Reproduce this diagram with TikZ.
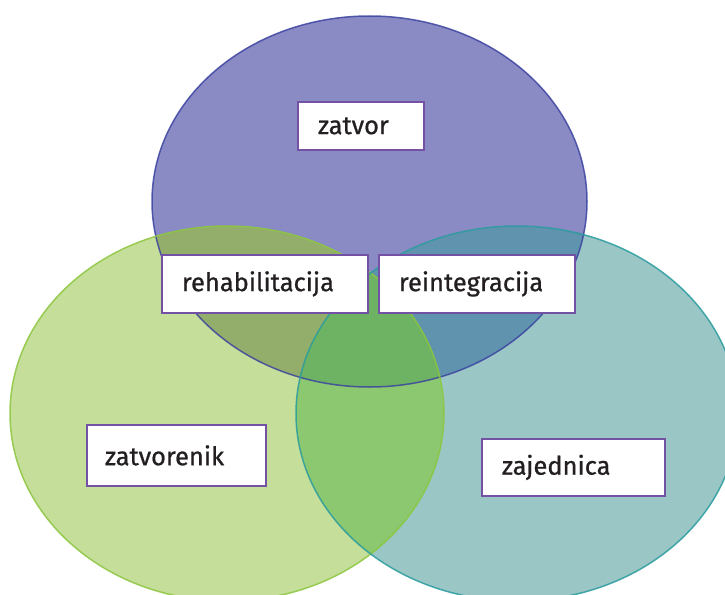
\documentclass[tikz,border=0pt]{standalone}
\usepackage{fontspec}
\setmainfont{Fira Sans}[FakeBold=0.8]
\definecolor{cP}{HTML}{8A8AC5}
\definecolor{cG}{HTML}{C5DE99}
\definecolor{cT}{HTML}{9AC6C6}
\definecolor{cPG}{HTML}{93AD6A}
\definecolor{cPT}{HTML}{5F93AE}
\definecolor{cGT}{HTML}{8BC86F}
\definecolor{cPGT}{HTML}{6EB263}
\definecolor{bP}{HTML}{3C44A0}
\definecolor{bG}{HTML}{8CC63F}
\definecolor{bT}{HTML}{2A9C9E}
\definecolor{boxb}{HTML}{7352A6}
\definecolor{txt}{HTML}{231F20}
\tikzset{
  labelbox/.style={draw=boxb, line width=1.8pt, fill=white, rectangle, inner xsep=20pt, inner ysep=0pt,
    align=left, font=\fontsize{25.5}{27}\selectfont, text=txt, anchor=north west},
}
\newcommand{\ellP}{(369.5,201.5) ellipse [x radius=217.5pt, y radius=185.5pt]}
\newcommand{\ellG}{(227,413.5) ellipse [x radius=217pt, y radius=187.5pt]}
\newcommand{\ellT}{(517,413.5) ellipse [x radius=221pt, y radius=187.5pt]}
\begin{document}
\begin{tikzpicture}[x=1pt,y=-1pt]
\useasboundingbox (0,0) rectangle (725,594);
\begin{scope}
\clip (0,0) rectangle (725,594);
\fill[cP] \ellP;
\fill[cG] \ellG;
\fill[cT] \ellT;
\begin{scope}\clip \ellP; \fill[cPG] \ellG; \fill[cPT] \ellT; \end{scope}
\begin{scope}\clip \ellG; \fill[cGT] \ellT; \end{scope}
\begin{scope}\clip \ellP; \clip \ellG; \fill[cPGT] \ellT; \end{scope}
\draw[bP, line width=1.5pt, opacity=0.85] \ellP;
\draw[bG, line width=1.5pt, opacity=0.85] \ellG;
\draw[bT, line width=1.5pt, opacity=0.85] \ellT;
\end{scope}
\node[labelbox, text width=86pt, minimum height=48pt] (zatvor) at (297,101) {zatvor};
\node[labelbox, text width=166pt, minimum height=58pt] (rehab) at (161,254) {rehabilitacija};
\node[labelbox, text width=156pt, minimum height=58pt] (reint) at (378,254) {reintegracija};
\node[labelbox, text width=143pt, minimum height=61pt, inner xsep=18pt] (zatvorenik) at (86,424) {zatvorenik};
\node[labelbox, text width=143pt, minimum height=57pt] (zajednica) at (481,438) {zajednica};
\end{tikzpicture}
\end{document}
